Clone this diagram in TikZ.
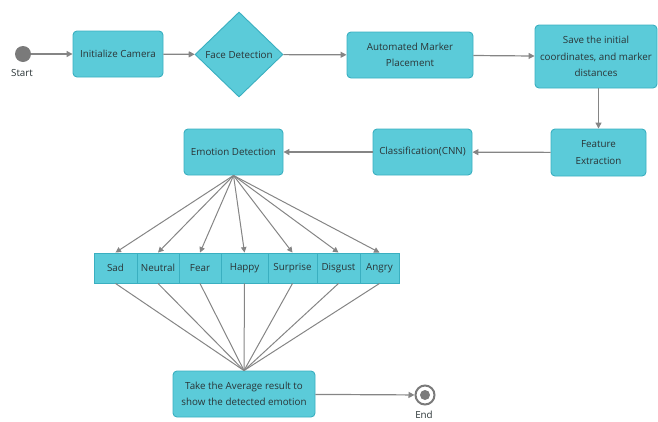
\documentclass[tikz,border=0pt]{standalone}
\usepackage{fontspec}
\setmainfont{Open Sans}
\usetikzlibrary{shapes.geometric,arrows.meta}
\definecolor{boxfill}{HTML}{5BCBD9}
\definecolor{boxline}{HTML}{3AAFC0}
\definecolor{linegray}{HTML}{858585}
\definecolor{dotgray}{HTML}{7A7A7A}
\definecolor{textgray}{HTML}{2A3436}
\begin{document}
\begin{tikzpicture}[x=1pt,y=-1pt,
  font=\fontsize{9.8}{16.5}\selectfont, text=textgray,
  box/.style={draw=boxline, fill=boxfill, rounded corners=4pt, align=center,
    inner sep=0pt, line width=0.9pt},
  cell/.style={draw=boxline, fill=boxfill, inner sep=0pt, line width=0.9pt,
    minimum height=30pt},
  flow/.style={draw=linegray, line width=1.2pt, -{Triangle[length=6pt,width=6pt]}},
  fan/.style={draw=linegray, line width=1pt},
  fanarrow/.style={fan, -{Triangle[length=5.5pt,width=5.5pt]}}
]
\useasboundingbox (0,0) rectangle (658,421);

% start and end markers
\node[circle, fill=dotgray, minimum size=16pt, inner sep=0pt] (start) at (23,54) {};
\node at (22,73) (startlbl) {Start};

% main flow
\node[box, minimum width=90pt, minimum height=46pt] (init) at (118,54) {Initialize Camera};
\node[diamond, draw=boxline, fill=boxfill, line width=0.9pt, inner sep=0pt,
      minimum width=88pt, minimum height=85pt] (face) at (239,54.5) {Face Detection};
\node[box, minimum width=126pt, minimum height=46pt] (amp) at (410,55) {Automated Marker\\Placement};
\node[box, minimum width=122pt, minimum height=63pt] (save) at (596,56.5)
  {Save the initial\\coordinates, and marker\\distances};
\node[box, minimum width=95pt, minimum height=47pt] (feat) at (598.5,152.5) {Feature\\Extraction};
\node[box, minimum width=99pt, minimum height=46pt] (cls) at (422.5,152) {Classification(CNN)};
\node[box, minimum width=99pt, minimum height=46pt] (emo) at (233.5,152) {Emotion Detection};

% emotion classes
\node[cell, minimum width=43pt] (sad) at (115.5,268) {Sad};
\node[cell, minimum width=42pt] (neutral) at (158,268) {Neutral};
\node[cell, minimum width=42pt] (fear) at (200,268) {Fear};
\node[cell, minimum width=47pt] (happy) at (244.5,268) {Happy};
\node[cell, minimum width=49pt] (surprise) at (292.5,268) {Surprise};
\node[cell, minimum width=43pt] (disgust) at (338.5,268) {Disgust};
\node[cell, minimum width=39pt] (angry) at (379.5,268) {Angry};

\node[box, minimum width=142pt, minimum height=46pt] (avg) at (244,394)
  {Take the Average result to\\show the detected emotion};

\node[circle, draw=dotgray, fill=white, line width=2pt, minimum size=19pt, inner sep=0pt] (end) at (425,395) {};
\node[circle, fill=dotgray, minimum size=10pt, inner sep=0pt] at (end.center) {};
\node at (424,415) (endlbl) {End};

% connectors
\draw[flow] (start) -- (init);
\draw[flow] (init) -- (face);
\draw[flow] (face) -- (amp);
\draw[flow] (amp) -- (save);
\draw[flow] (save.south -| feat.north) -- (feat.north);
\draw[flow] (feat) -- (cls);
\draw[flow] (cls) -- (emo);

\foreach \c in {sad,neutral,fear,happy,surprise,disgust,angry}{
  \draw[fanarrow] (emo.south) -- (\c.north);
  \draw[fan] (\c.south) -- (avg.north);
}
\draw[flow] (avg) -- (end);
\end{tikzpicture}
\end{document}
